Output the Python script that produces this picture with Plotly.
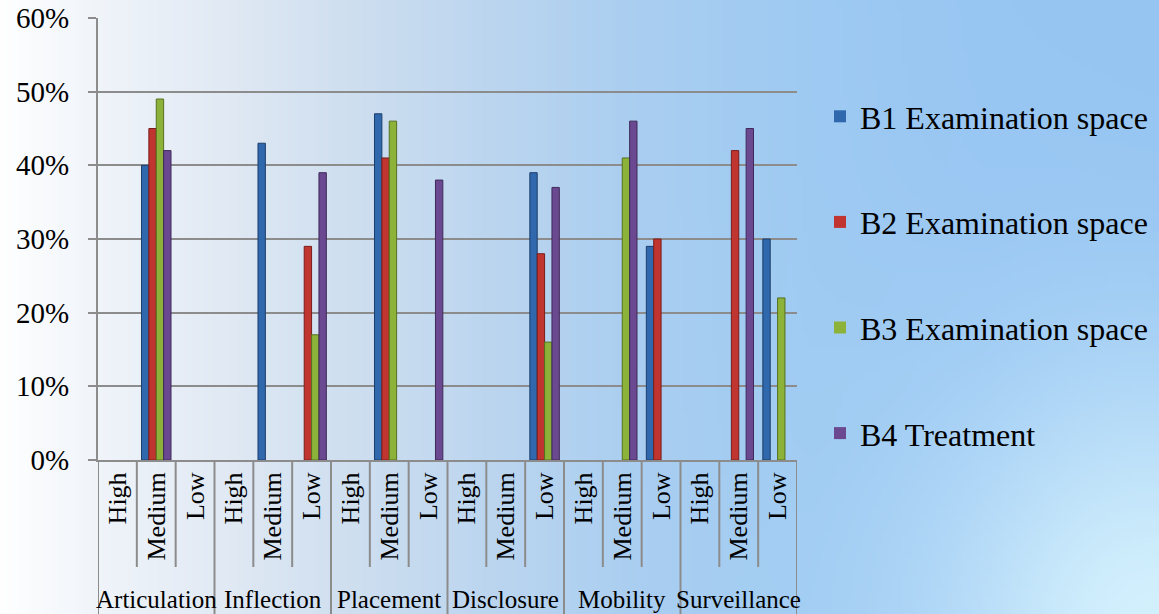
import base64, struct, zlib, math
import plotly.graph_objects as go

# ---------------- data ----------------
groups = ["Articulation", "Inflection", "Placement", "Disclosure", "Mobility", "Surveillance"]
levels = ["High", "Medium", "Low"]
series_names = ["B1 Examination space", "B2 Examination space", "B3 Examination space", "B4 Treatment"]
b1 = [0, 40, 0, 0, 43, 0, 0, 47, 0, 0, 0, 39, 0, 0, 29, 0, 0, 30]
b2 = [0, 45, 0, 0, 0, 29, 0, 41, 0, 0, 0, 28, 0, 0, 30, 0, 42, 0]
b3 = [0, 49, 0, 0, 0, 17, 0, 46, 0, 0, 0, 16, 0, 41, 0, 0, 0, 22]
b4 = [0, 42, 0, 0, 0, 39, 0, 0, 38, 0, 0, 37, 0, 46, 0, 0, 45, 0]
y_ticks = [0, 10, 20, 30, 40, 50, 60]
y_tick_text = ["0%", "10%", "20%", "30%", "40%", "50%", "60%"]

# ---------------- style ----------------
W, H = 1159, 614
L, R, T, B = 98, 362, 18, 154
PW, PH = W - L - R, H - T - B
colors = ["#2f68ad", "#c0352f", "#8cb23a", "#6a4990"]
edges = ["#1d3f6b", "#7a1d1a", "#56701e", "#3f2a5a"]
grid = "#8c8c8c"
FONT = "Liberation Serif, Times New Roman, Times, serif"

# ---------------- background gradient (png) ----------------
stops = [(0.0, (255, 255, 255)), (0.08, (241, 245, 250)), (0.2, (224, 233, 244)),
         (0.3, (207, 223, 240)), (0.43, (187, 213, 239)), (0.55, (170, 206, 241)),
         (0.7, (158, 202, 242)), (0.85, (152, 198, 243)), (1.0, (150, 197, 242))]


def base(t):
    for i in range(len(stops) - 1):
        t0, c0 = stops[i]
        t1, c1 = stops[i + 1]
        if t <= t1:
            f = (t - t0) / (t1 - t0)
            return [c0[k] + (c1[k] - c0[k]) * f for k in range(3)]
    return list(stops[-1][1])


gw, gh = 232, 123
raw = bytearray()
for j in range(gh):
    raw.append(0)
    py = (j + 0.5) / gh * H
    for i in range(gw):
        px = (i + 0.5) / gw * W
        c = base(px / W)
        dx, dy = (px - 1150) / 230.0, (py - 640) / 280.0
        w = 0.85 * math.exp(-(dx * dx + dy * dy))
        hi = (222, 248, 255)
        c = [c[k] * (1 - w) + hi[k] * w for k in range(3)]
        raw.extend(int(max(0, min(255, v))) for v in c)


def chunk(tag, data):
    return struct.pack(">I", len(data)) + tag + data + struct.pack(">I", zlib.crc32(tag + data) & 0xffffffff)


png = (b"\x89PNG\r\n\x1a\n" + chunk(b"IHDR", struct.pack(">IIBBBBB", gw, gh, 8, 2, 0, 0, 0))
       + chunk(b"IDAT", zlib.compress(bytes(raw), 9)) + chunk(b"IEND", b""))
bg_uri = "data:image/png;base64," + base64.b64encode(png).decode()

# ---------------- figure ----------------
x_keys = [f"{g} {l}" for g in groups for l in levels]
x_text = [l for g in groups for l in levels]

fig = go.Figure()
for name, vals, col, ed in zip(series_names, [b1, b2, b3, b4], colors, edges):
    fig.add_trace(go.Bar(
        x=x_keys, y=vals, name=name, legendgroup=name,
        marker=dict(color=col, line=dict(color=ed, width=[1 if v > 0 else 0 for v in vals])),
    ))

shapes = []
for k in range(19):
    xb = k - 0.5
    bottom = 614 if k % 3 == 0 else 567
    shapes.append(dict(type="line", xref="x", yref="paper", x0=xb, x1=xb, y0=0,
                       y1=-(bottom - (H - B)) / PH,
                       line=dict(color=grid, width=2), layer="above"))

annotations = []
for gi, g in enumerate(groups):
    annotations.append(dict(x=gi * 3 + 1, xref="x", y=-(599 - (H - B)) / PH, yref="paper",
                            text=g, showarrow=False, xanchor="center", yanchor="middle",
                            font=dict(family=FONT, size=25, color="black")))

fig.update_layout(
    width=W, height=H,
    margin=dict(l=L, r=R, t=T, b=B, pad=0, autoexpand=False),
    paper_bgcolor="white", plot_bgcolor="rgba(0,0,0,0)",
    barmode="group", bargap=0.24, bargroupgap=0,
    font=dict(family=FONT, color="black"),
    images=[dict(source=bg_uri, xref="paper", yref="paper",
                 x=-L / PW, y=(H - B) / PH,
                 sizex=W / PW, sizey=H / PH, xanchor="left", yanchor="top",
                 sizing="stretch", layer="below")],
    shapes=shapes, annotations=annotations,
    legend=dict(x=(820 - L) / PW, xanchor="left", y=((H - B) - 89) / PH, yanchor="top",
                font=dict(family=FONT, size=32, color="black"),
                bgcolor="rgba(0,0,0,0)", tracegroupgap=61, itemclick=False),
    showlegend=True,
)
fig.update_xaxes(type="category", range=[-0.5, 17.5], tickmode="array", tickvals=x_keys, ticktext=x_text,
                 tickangle=-90, tickfont=dict(family=FONT, size=26, color="black"),
                 showline=True, linecolor=grid, linewidth=2, ticks="", showgrid=False, fixedrange=True)
fig.update_yaxes(range=[0, 60], tickmode="array", tickvals=y_ticks, ticktext=y_tick_text,
                 tickfont=dict(family=FONT, size=29, color="black"),
                 showgrid=True, gridcolor=grid, gridwidth=2, zeroline=False,
                 showline=True, linecolor=grid, linewidth=2,
                 ticks="outside", ticklen=8, tickcolor=grid, tickwidth=2,
                 ticklabelstandoff=13, fixedrange=True)

fig.write_html("out.html")
